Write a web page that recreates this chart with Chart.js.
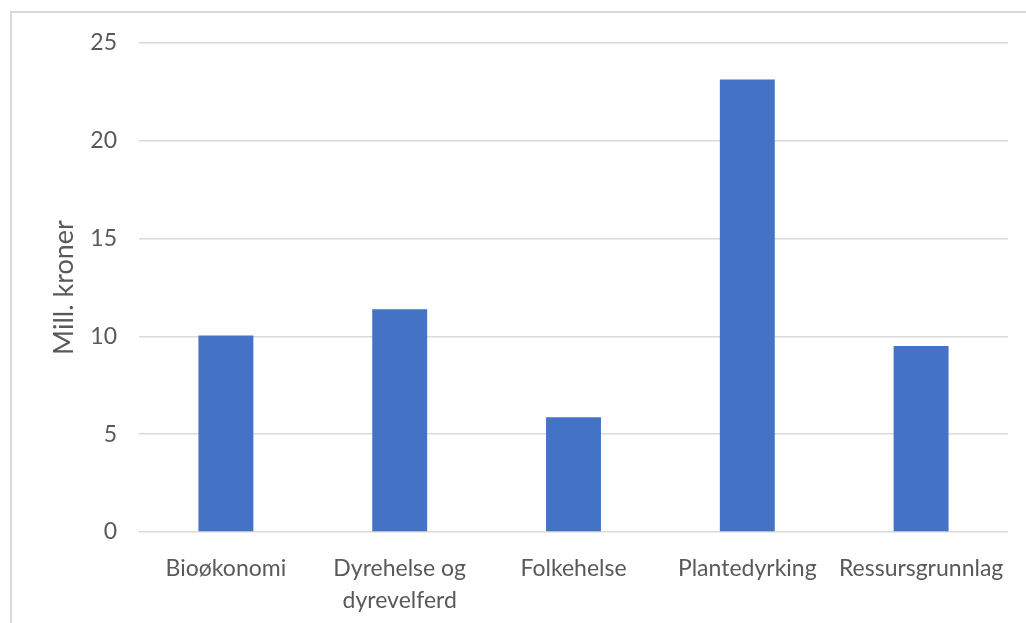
<!DOCTYPE html>
<html>
<head>
<meta charset="utf-8">
<script src="https://cdn.jsdelivr.net/npm/chart.js@4/dist/chart.umd.min.js"></script>
<style>
  html, body { margin: 0; padding: 0; background: #fff; overflow: hidden; }
  #frame { position: absolute; left: 10px; top: 11px; width: 1100px; height: 700px; border: 2px solid #d9d9d9; }
  #wrap { position: absolute; left: 0; top: 0; width: 1026px; height: 623px; }
</style>
</head>
<body>
<div id="frame"></div>
<div id="wrap"><canvas id="chart" width="1026" height="623"></canvas></div>
<script>
const categories = ['Bioøkonomi', ['Dyrehelse og', 'dyrevelferd'], 'Folkehelse', 'Plantedyrking', 'Ressursgrunnlag'];
const values = [10.04, 11.39, 5.87, 23.13, 9.51];
const yTicks = [0, 5, 10, 15, 20, 25];

const textColor = '#595959';
Chart.defaults.font.family = 'Lato, "Open Sans", sans-serif';

new Chart(document.getElementById('chart'), {
    type: 'bar',
    data: {
        labels: categories,
        datasets: [{
            label: 'Mill. kroner',
            data: values,
            backgroundColor: '#4472C4',
            barPercentage: 0.316,
            categoryPercentage: 1
        }]
    },
    options: {
        responsive: false,
        animation: false,
        devicePixelRatio: 1,
        layout: { padding: { top: 43, right: 18, bottom: 0, left: 0 } },
        plugins: { legend: { display: false }, tooltip: { enabled: false } },
        scales: {
            x: {
                grid: { display: false },
                border: { display: false },
                ticks: {
                    color: textColor,
                    font: { size: 23, lineHeight: 1.4 },
                    padding: 12,
                    maxRotation: 0,
                    autoSkip: false
                },
                afterFit: scale => { scale.height = 91; }
            },
            y: {
                min: 0,
                max: 25,
                afterBuildTicks: scale => { scale.ticks = yTicks.map(v => ({ value: v })); },
                grid: { color: '#d9d9d9', lineWidth: 1.5, drawTicks: false },
                border: { display: false },
                ticks: {
                    color: textColor,
                    font: { size: 23 },
                    padding: 22
                },
                title: {
                    display: true,
                    text: 'Mill. kroner',
                    color: textColor,
                    font: { size: 27, lineHeight: 1.2 },
                    padding: { top: 48, bottom: 0 }
                },
                afterFit: scale => { scale.width = 139; }
            }
        }
    }
});
</script>
</body>
</html>
